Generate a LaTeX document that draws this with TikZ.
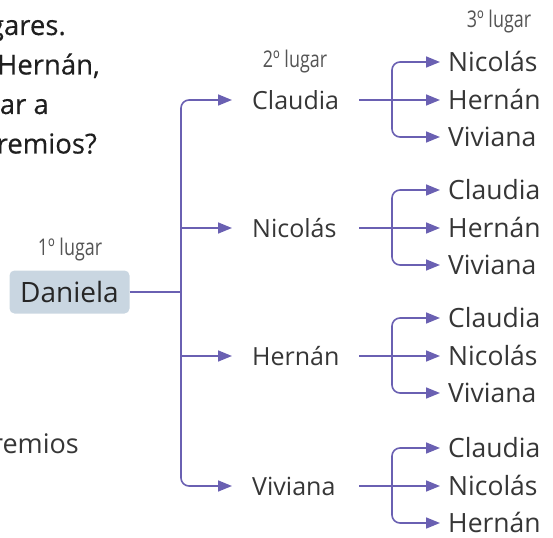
\documentclass[tikz,border=0pt]{standalone}
\usepackage{fontspec}
\setmainfont{Open Sans}
\newfontfamily\lugarfont[FakeStretch=0.78]{Open Sans}
\newfontfamily\enunfont[FakeBold=0.4]{Open Sans}
\usetikzlibrary{arrows.meta}
\definecolor{flecha}{HTML}{6A60B2}
\definecolor{caja}{HTML}{C9D6E1}
\definecolor{texto}{HTML}{363636}
\tikzset{
  linea/.style={draw=flecha,line width=1.6pt},
  flechita/.style={linea,-{Triangle[length=14pt,width=11pt]},rounded corners=8pt},
  nombre/.style={anchor=west,inner sep=0pt,text height=19pt,text depth=0pt,text=texto},
  lugar/.style={text=texto!85,font=\lugarfont\fontsize{23}{23}\selectfont},
  enunciado/.style={anchor=base east,inner sep=0pt,font=\enunfont\fontsize{27.5}{27.5}\selectfont,text=black!88},
}

\begin{document}
\begin{tikzpicture}[x=1pt,y=-1pt]
\useasboundingbox (0,0) rectangle (553,537);
% texto cortado a la izquierda
\node[enunciado] (t1) at (66,35) {gares.};
\node[enunciado] (t2) at (100,74.5) {Hernán,};
\node[enunciado] (t3) at (49,114) {ar a};
\node[enunciado] (t4) at (97,153.5) {remios?};
\node[enunciado,font=\fontsize{27}{27}\selectfont,text=texto] (t5) at (79,453) {remios};

\node[lugar] (l1) at (70,250) {1º lugar};
\node[lugar] (l2) at (295,62) {2º lugar};
\node[lugar] (l3) at (499,22) {3º lugar};

\node[fill=caja,rounded corners=5pt,minimum width=120pt,minimum height=43pt,
  font=\fontsize{28}{28}\selectfont,text=black!85] (dan) at (69.5,292) {Daniela};
\coordinate (tronco) at (181,292);
\draw[linea] (dan.east) -- (tronco);

% 2o lugar
\foreach \y/\nom/\g in {100/Claudia/c, 228/Nicolás/n, 356/Hernán/h, 486/Viviana/v}
  \node[nombre,font=\fontsize{25}{25}\selectfont] (\g) at (252,\y) {\nom};
\draw[flechita,shorten >=20pt] (tronco) |- (c.west);
\draw[flechita,shorten >=20pt] (tronco) |- (v.west);
\draw[flechita,shorten >=20pt] (tronco |- n.west) -- (n.west);
\draw[flechita,shorten >=20pt] (tronco |- h.west) -- (h.west);

% 3o lugar
\foreach \y/\g/\p/\q/\r in {100/c/Nicolás/Hernán/Viviana, 228/n/Claudia/Hernán/Viviana,
    356/h/Claudia/Nicolás/Viviana, 486/v/Claudia/Nicolás/Hernán} {
  \coordinate (\g s) at (359,\y);
  \coordinate (\g j) at (392,\y);
  \node[nombre,font=\fontsize{26.5}{26.5}\selectfont] (\g1) at (448,\y-38) {\p};
  \node[nombre,font=\fontsize{26.5}{26.5}\selectfont] (\g2) at (448,\y) {\q};
  \node[nombre,font=\fontsize{26.5}{26.5}\selectfont] (\g3) at (448,\y+37) {\r};
  \draw[flechita,shorten >=8pt] (\g s) -- (\g2.west);
  \draw[flechita,shorten >=8pt] (\g j) |- (\g1.west);
  \draw[flechita,shorten >=8pt] (\g j) |- (\g3.west);
}
\end{tikzpicture}
\end{document}
